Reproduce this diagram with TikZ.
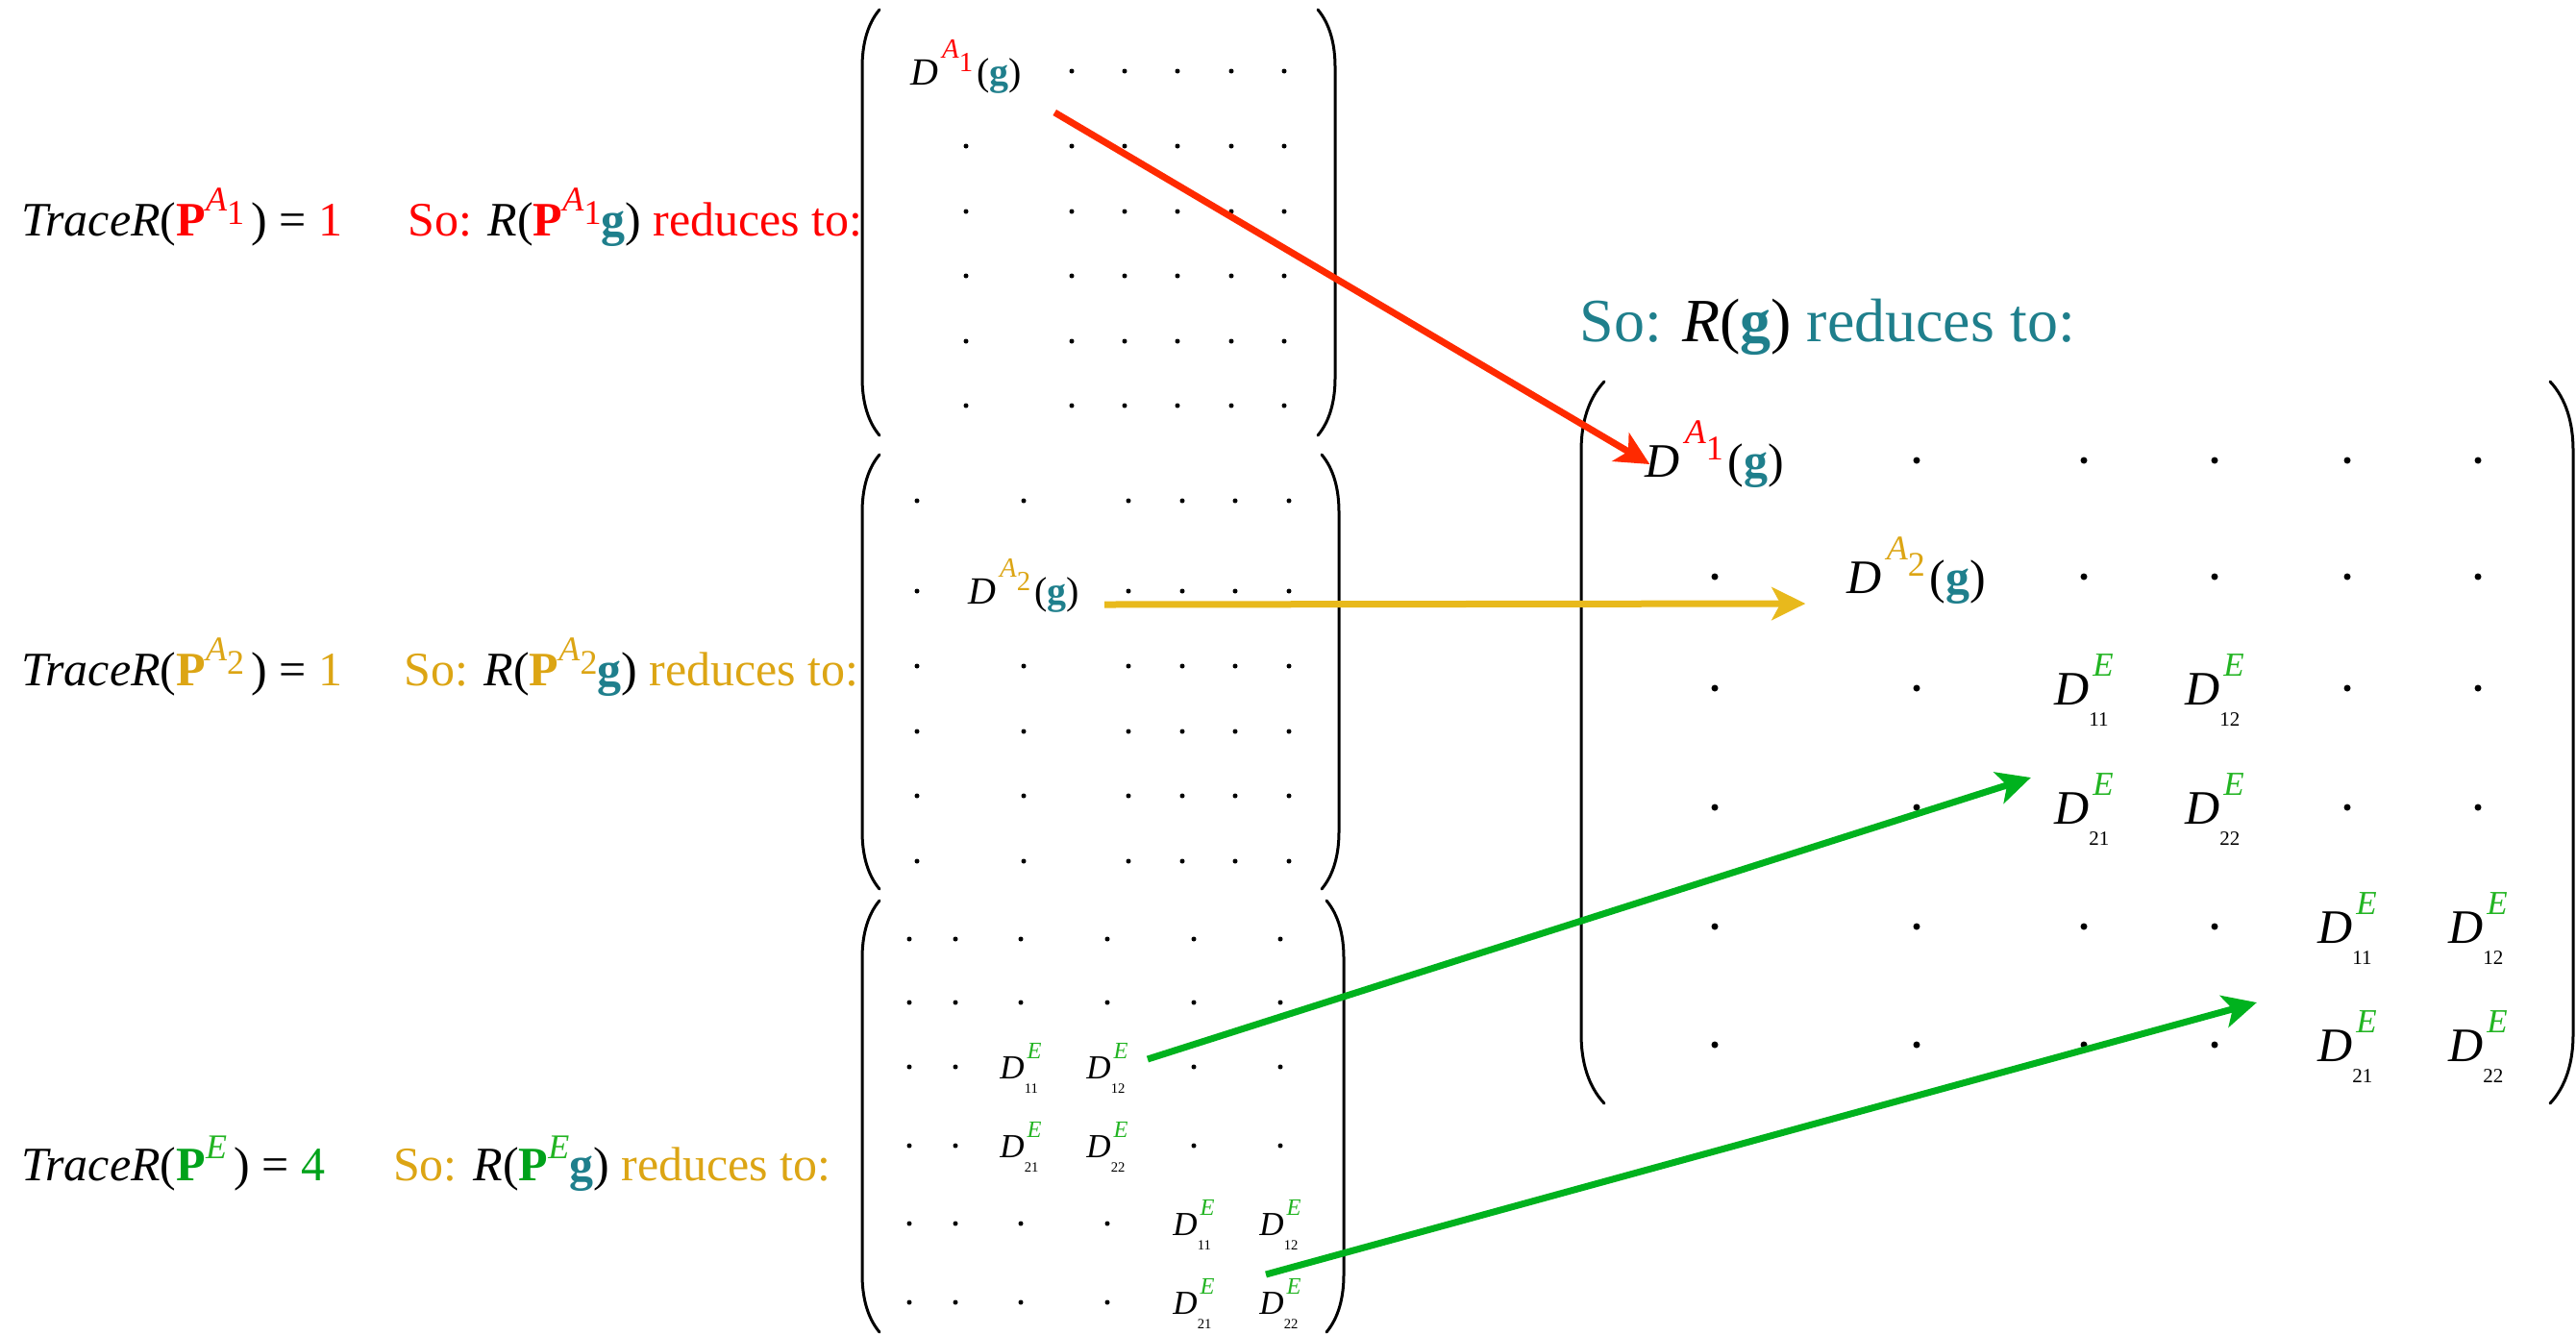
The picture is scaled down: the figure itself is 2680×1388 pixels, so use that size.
\documentclass[tikz,border=0pt]{standalone}
\usepackage{fontspec}
\setmainfont{Liberation Serif}
\usepackage{graphicx}
\usetikzlibrary{arrows.meta, positioning}
\definecolor{repred}{HTML}{FF0000}
\definecolor{repredarr}{HTML}{FF2A00}
\definecolor{repgold}{HTML}{DCA514}
\definecolor{repgoldarr}{HTML}{E8B91C}
\definecolor{repgreen}{HTML}{00A21A}
\definecolor{repgreenlt}{HTML}{22B422}
\definecolor{repgreenarr}{HTML}{00B21E}
\definecolor{repteal}{HTML}{1F7F8C}
\newcommand{\Pbf}[1]{\textbf{\color{#1}P}}
\newcommand{\gbf}{\textbf{\color{repteal}g}}
\newcommand{\lblA}[2]{\raisebox{.52em}{\scalebox{.72}{\color{#1}\textit{A}\raisebox{-.39em}{#2}}}}
\newcommand{\lblE}{\raisebox{.46em}{\scalebox{.72}{\color{repgreenlt}\textit{E}}}}
\newcommand{\matA}[2]{\kern.1em\raisebox{.7em}{\scalebox{.72}{\color{#1}\textit{A}\raisebox{-.49em}{#2}}}\kern.1em}
\newcommand{\DE}[1]{\textit{D}\rlap{\raisebox{-.44em}{\scalebox{.42}{#1}}}\kern.08em\raisebox{.6em}{\scalebox{.7}{\color{repgreenlt}\textit{E}}}}
\newcommand{\mparens}[6]{%
  \draw[repparen] (#1+#5,#3) .. controls (#1+.3*#5,#3+.25*#6) and (#1,#3+.6*#6) .. (#1,#3+#6)
    -- (#1,#4-#6) .. controls (#1,#4-.6*#6) and (#1+.3*#5,#4-.25*#6) .. (#1+#5,#4);
  \draw[repparen] (#2-#5,#3) .. controls (#2-.3*#5,#3+.25*#6) and (#2,#3+.6*#6) .. (#2,#3+#6)
    -- (#2,#4-#6) .. controls (#2,#4-.6*#6) and (#2-.3*#5,#4-.25*#6) .. (#2-#5,#4);
}
\tikzset{
  replbl/.style   = {anchor=base west, inner sep=0pt, font=\fontsize{25}{30}\selectfont},
  repttl/.style   = {replbl, font=\fontsize{32}{38}\selectfont, text=repteal},
  repbig/.style   = {anchor=base, inner sep=0pt, font=\fontsize{25}{30}\selectfont},
  repmid/.style   = {repbig, font=\fontsize{20}{24}\selectfont},
  repsm/.style    = {repbig, font=\fontsize{17.5}{21}\selectfont},
  repparen/.style = {line width=1.5pt, line cap=round},
  reparr/.style   = {line width=3.5pt,
                     -{Stealth[length=17.5pt, width=17pt, inset=4.5pt]}},
}
\begin{document}
\begin{tikzpicture}[x=0.5pt, y=-0.5pt]
  \useasboundingbox (0,0) rectangle (2680,1388);

  \node[replbl] (tr1) at (22,245)
       {\textit{TraceR}(\Pbf{repred}\lblA{repred}{1}\kern.15em) = {\color{repred}1}};
  \node[replbl, base right=33.5pt of tr1] (so1)
       {{\color{repred}So:} \textit{R}(\Pbf{repred}\lblA{repred}{1}\gbf) {\color{repred}reduces to:}};
  \node[replbl] (tr2) at (22,713)
       {\textit{TraceR}(\Pbf{repgold}\lblA{repgold}{2}\kern.15em) = {\color{repgold}1}};
  \node[replbl, base right=31.5pt of tr2] (so2)
       {{\color{repgold}So:} \textit{R}(\Pbf{repgold}\lblA{repgold}{2}\gbf) {\color{repgold}reduces to:}};
  \node[replbl] (tr3) at (22,1228)
       {\textit{TraceR}(\Pbf{repgreen}\lblE\kern.15em) = {\color{repgreen}4}};
  \node[replbl, base right=35pt of tr3] (so3)
       {{\color{repgold}So:} \textit{R}(\Pbf{repgreen}\lblE\gbf) {\color{repgold}reduces to:}};
  \node[repttl] (ttl) at (1643,355)
       {So: {\color{black}\textit{R}(}\gbf{\color{black})} reduces to:};

  \mparens{897}{1389}{10}{453}{18}{60}
  \mparens{897}{1393}{473}{925}{18}{60}
  \mparens{897}{1398}{937}{1386}{18}{60}
  \mparens{1645}{2677}{397}{1148}{24}{72}

  \foreach \x in {1115,1170,1225,1281,1336} \fill (\x,74) circle[radius=1.25pt];
  \foreach \y in {152,220,287,355,422}
    \foreach \x in {1005,1115,1170,1225,1281,1336} \fill (\x,\y) circle[radius=1.25pt];
  \foreach \y in {521,693,761,828,896}
    \foreach \x in {954,1065,1174,1230,1285,1341} \fill (\x,\y) circle[radius=1.25pt];
  \foreach \x in {954,1174,1230,1285,1341} \fill (\x,615) circle[radius=1.25pt];
  \foreach \y in {977,1043}
    \foreach \x in {946,994,1062,1152,1242,1332} \fill (\x,\y) circle[radius=1.25pt];
  \foreach \y in {1110,1192}
    \foreach \x in {946,994,1242,1332} \fill (\x,\y) circle[radius=1.25pt];
  \foreach \y in {1273,1355}
    \foreach \x in {946,994,1062,1152} \fill (\x,\y) circle[radius=1.25pt];
  \foreach \x in {1994,2168,2304,2442,2578} \fill (\x,479) circle[radius=1.75pt];
  \foreach \x in {1784,2168,2304,2442,2578} \fill (\x,600) circle[radius=1.75pt];
  \foreach \y in {716,840}
    \foreach \x in {1784,1994,2442,2578} \fill (\x,\y) circle[radius=1.75pt];
  \foreach \y in {964,1087}
    \foreach \x in {1784,1994,2168,2304} \fill (\x,\y) circle[radius=1.75pt];

  \node[repmid] (m1a) at (1005,88) {\textit{D}\matA{repred}{1}(\gbf)};
  \node[repmid] (m2b) at (1065,628) {\textit{D}\matA{repgold}{2}(\gbf)};
  \node[repsm] (m3a) at (1062,1122) {\DE{11}};
  \node[repsm] (m3b) at (1152,1122) {\DE{12}};
  \node[repsm] (m3c) at (1062,1204) {\DE{21}};
  \node[repsm] (m3d) at (1152,1204) {\DE{22}};
  \node[repsm] (m3e) at (1242,1285) {\DE{11}};
  \node[repsm] (m3f) at (1332,1285) {\DE{12}};
  \node[repsm] (m3g) at (1242,1367) {\DE{21}};
  \node[repsm] (m3h) at (1332,1367) {\DE{22}};

  \node[repbig] (bA1) at (1784,496) {\textit{D}\matA{repred}{1}(\gbf)};
  \node[repbig] (bA2) at (1994,617) {\textit{D}\matA{repgold}{2}(\gbf)};
  \node[repbig] (bE1) at (2168,733) {\DE{11}};
  \node[repbig] (bE2) at (2304,733) {\DE{12}};
  \node[repbig] (bE3) at (2168,857) {\DE{21}};
  \node[repbig] (bE4) at (2304,857) {\DE{22}};
  \node[repbig] (bE5) at (2442,981) {\DE{11}};
  \node[repbig] (bE6) at (2578,981) {\DE{12}};
  \node[repbig] (bE7) at (2442,1104) {\DE{21}};
  \node[repbig] (bE8) at (2578,1104) {\DE{22}};

  \draw[reparr, draw=repredarr] ([shift={(34,29)}]m1a.base east) -- ([shift={(5,-13)}]bA1.base west);
  \draw[reparr, draw=repgoldarr] ([shift={(26,1)}]m2b.base east) -- ([shift={(-43,11)}]bA2.base west);
  \draw[reparr, draw=repgreenarr] ([shift={(20,-20)}]m3b.base east) -- ([shift={(-24,-48)}]bE3.base west);
  \draw[reparr, draw=repgreenarr] ([shift={(-15,-41)}]m3h.base) -- ([shift={(-63,-61)}]bE7.base west);
\end{tikzpicture}
\end{document}
